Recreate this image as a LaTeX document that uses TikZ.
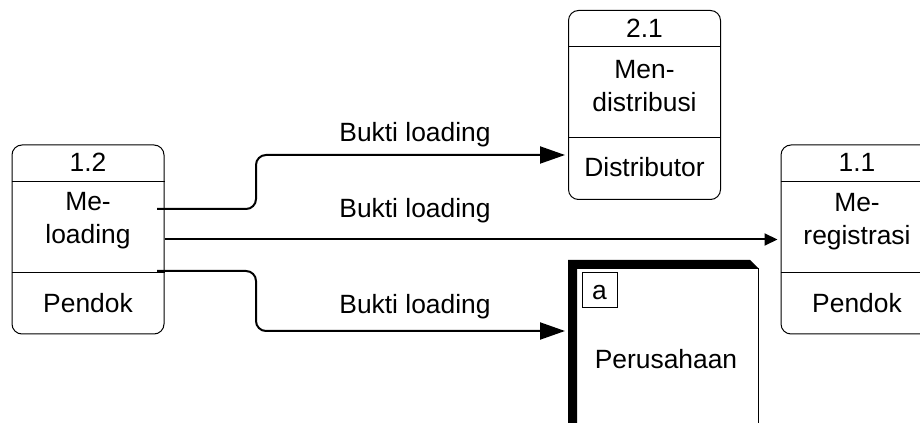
\documentclass[tikz,border=0pt]{standalone}
\usepackage{fontspec}
\setmainfont{Liberation Sans}
\usetikzlibrary{arrows.meta,calc}

\begin{document}
\begin{tikzpicture}[x=0.75pt,y=0.75pt,yscale=-1,xscale=1,
  proc/.style={draw, rounded corners=7.5pt, line width=0.75pt, minimum width=114pt, minimum height=141.75pt, inner sep=0pt},
  txt/.style={font=\fontsize{19.8}{24.75}\selectfont, inner sep=0pt, align=center},
  flow/.style={line width=1.5pt, rounded corners=7.5pt}]
\useasboundingbox (0,0) rectangle (920,423);
\clip (0,0) rectangle (920,423);

%Shape: Process 1.2
\node [proc] (p12) at (88,239.5) {};
\draw [line width=0.75pt] ($(p12.north west)+(0,37)$) -- ($(p12.north east)+(0,37)$) ;
\draw [line width=0.75pt] ($(p12.north west)+(0,128)$) -- ($(p12.north east)+(0,128)$) ;
%Shape: Process 2.1
\node [proc] (p21) at (644.5,105) {};
\draw [line width=0.75pt] ($(p21.north west)+(0,37)$) -- ($(p21.north east)+(0,37)$) ;
\draw [line width=0.75pt] ($(p21.north west)+(0,128)$) -- ($(p21.north east)+(0,128)$) ;
%Shape: Process 1.1
\node [proc] (p11) at (857,239.5) {};
\draw [line width=0.75pt] ($(p11.north west)+(0,37)$) -- ($(p11.north east)+(0,37)$) ;
\draw [line width=0.75pt] ($(p11.north west)+(0,128)$) -- ($(p11.north east)+(0,128)$) ;

%Shape: External entity
\fill (568,260) -- (750,260) -- (759,269) -- (577,269) -- (577,430) -- (568,430) -- cycle ;
\draw [line width=0.75pt] (758,268) -- (758,430) ;
\node [draw, line width=0.75pt, minimum size=26.25pt, inner sep=0pt] (ida) at (599.5,290.5) {};

%Flow lines
\coordinate (s1) at (157,209) ;
\coordinate (e1) at (565,155) ;
\coordinate (s3) at (157,271) ;
\coordinate (e3) at (565,331) ;
\draw [flow, -{Triangle[length=18.75pt,width=12.75pt]}] (s1) -- (256,209) |- (e1) ;
\draw [flow, shorten >=2.25pt, -{Triangle[length=9.75pt,width=9pt]}] (p12.east) -- (p11.west) ;
\draw [flow, -{Triangle[length=18.75pt,width=12.75pt]}] (s3) -- (256,271) |- (e3) ;

% Text Node
\node [txt, anchor=base] (n12) at (88,172) {1.2};
\node [txt] (t12) at (88,221) {Me-\\loading};
\node [txt, anchor=base] (d12) at (88,313) {Pendok};
% Text Node
\node [txt, anchor=base] (n21) at (644.5,38) {2.1};
\node [txt] (t21) at (644.5,86) {Men-\\distribusi};
\node [txt, anchor=base] (d21) at (644.5,177) {Distributor};
% Text Node
\node [txt, anchor=base] (n11) at (857,172) {1.1};
\node [txt] (t11) at (857,222) {Me-\\registrasi};
\node [txt, anchor=base] (d11) at (857,312.5) {Pendok};
% Text Node
\node [txt, anchor=base] (l1) at (415,142) {Bukti loading};
\node [txt, anchor=base] (l2) at (415,218) {Bukti loading};
\node [txt, anchor=base] (l3) at (415,314) {Bukti loading};
% Text Node
\node [txt, anchor=base] (ta) at (599.5,300) {a};
\node [txt, anchor=base] (tp) at (666,369) {Perusahaan};
\end{tikzpicture}
\end{document}
